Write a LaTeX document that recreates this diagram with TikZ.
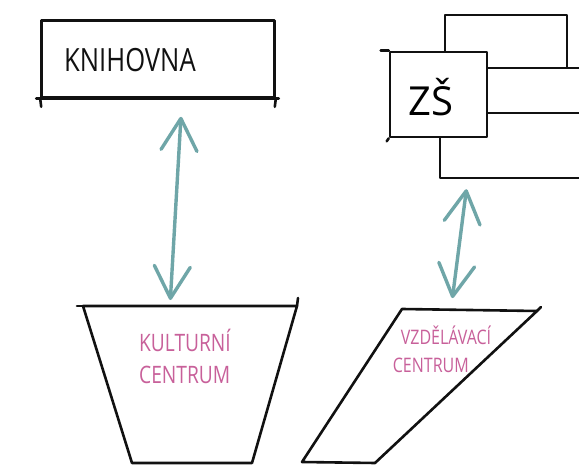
\documentclass[tikz,border=0pt]{standalone}
\usepackage{fontspec}
\newfontfamily\handfont[FakeStretch=0.8]{Open Sans}
\newfontfamily\handwide{Open Sans}
\usetikzlibrary{arrows.meta,positioning}
\definecolor{inkBlack}{HTML}{111111}
\definecolor{tealArrow}{HTML}{6FA6A8}
\definecolor{pinkLabel}{HTML}{C8609A}

\begin{document}
\begin{tikzpicture}[
    x=1pt, y=-1pt,
    ink/.style={draw=inkBlack, line width=2.6pt, line cap=round, line join=round},
    box/.style={rectangle, ink, inner sep=0pt},
    title/.style={text=inkBlack, inner sep=0pt, font=\handfont\fontsize{32pt}{34pt}\selectfont},
    tag/.style={text=pinkLabel, align=left, inner sep=0pt},
    link/.style={draw=tealArrow, line width=3.4pt, line cap=round,
      {Straight Barb[length=32pt,width=36pt,round]}-{Straight Barb[length=32pt,width=36pt,round]}}
  ]
  \clip (0,0) rectangle (579,470);
  \fill[white] (0,0) rectangle (579,470);

  % knihovna
  \node[box, minimum width=233pt, minimum height=77pt] (knihovna) at (158,59) {};
  \node[title, anchor=west] (knihovnaText) at (64,60) {KNIHOVNA};
  \draw[ink] ([xshift=-4pt]knihovna.south west) -- ([xshift=3pt]knihovna.south east);
  \draw[ink] (knihovna.south west) -- ++(1,8);
  \draw[ink] (knihovna.south east) -- ++(-1,8);

  % stacked sheets behind ZS
  \node[box, minimum width=122pt, minimum height=53pt] (zsA) at (506,41.5) {};
  \node[box, minimum width=155pt, minimum height=45pt] (zsB) at (522,90.5) {};
  \node[box, minimum width=160pt, minimum height=65pt] (zsC) at (520,145.5) {};
  \node[box, fill=white, minimum width=97pt, minimum height=85pt] (zs) at (438.5,94.5) {};
  \node[inner sep=0pt, font=\handwide\fontsize{40pt}{42pt}\selectfont] (zsText) at (431,97) {ZŠ};
  \draw[ink] ([xshift=-8pt]zs.north west) -- (zs.north west);
  \draw[ink] (zs.south west) -- ++(-2,3);

  % kulturni centrum
  \coordinate (kcNW) at (83,306);
  \coordinate (kcNE) at (297,306);
  \coordinate (kcSE) at (252,463);
  \coordinate (kcSW) at (132,463);
  \coordinate (kcTop) at (170,306);
  \draw[ink] (kcNW) -- (kcNE) -- (kcSE) -- (kcSW) -- cycle;
  \draw[ink] ([xshift=-6pt]kcNW) -- (kcNW);
  \draw[ink] (kcNE) -- ++(1,-8);
  \node[tag, font=\handfont\fontsize{24pt}{32pt}\selectfont] (kcText) at (185,356) {KULTURNÍ\\CENTRUM};

  % vzdelavaci centrum
  \coordinate (vcNW) at (402,309);
  \coordinate (vcNE) at (537,311);
  \coordinate (vcSE) at (375,463);
  \coordinate (vcSW) at (302,462);
  \coordinate (vcTop) at (451,309);
  \draw[ink] (vcNW) -- (vcNE) -- (vcSE) -- (vcSW) -- cycle;
  \draw[ink] (vcNE) -- ++(4,-4);
  \node[tag, font=\handfont\fontsize{20pt}{28pt}\selectfont] (vcText) at (442,349) {\hspace*{8pt}VZDĚLÁVACÍ\\CENTRUM};

  % links
  \draw[link, shorten <=18pt, shorten >=6pt] ([xshift=24pt]knihovna.south) -- (kcTop);
  \draw[link, shorten <=10pt, shorten >=11pt] ([xshift=29pt]zsC.south west) -- (vcTop);
\end{tikzpicture}
\end{document}
